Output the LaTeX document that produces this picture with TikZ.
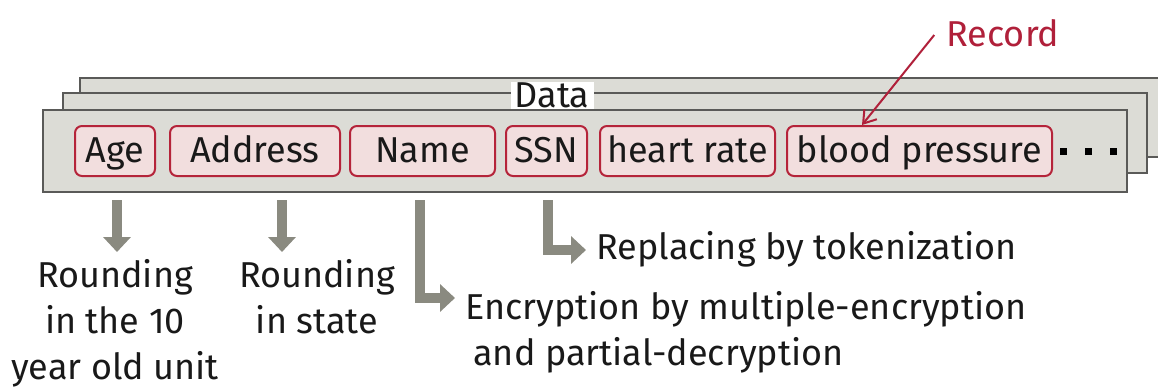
\documentclass[tikz,border=0pt]{standalone}
\usepackage{fontspec}
\setmainfont{Fira Sans}
\usetikzlibrary{arrows.meta}
\definecolor{boxgray}{RGB}{220,220,214}
\definecolor{edgegray}{RGB}{90,90,88}
\definecolor{fieldred}{RGB}{181,36,58}
\definecolor{fieldpink}{RGB}{242,222,222}
\definecolor{arrowgray}{RGB}{138,138,128}
\definecolor{recred}{RGB}{176,32,58}
\definecolor{txt}{RGB}{25,25,25}
\begin{document}
\begin{tikzpicture}[x=0.5pt,y=-0.5pt,
  every node/.style={font=\fontsize{18}{23}\selectfont, text=txt},
  layer/.style={draw=edgegray, fill=boxgray, line width=1pt},
  field/.style={draw=fieldred, fill=fieldpink, line width=1pt, rounded corners=3.5pt,
                minimum height=25pt, inner sep=0pt, text height=13pt, text depth=2pt},
  garrow/.style={draw=arrowgray, line width=5pt, line join=miter,
                 -{Triangle[width=13.5pt,length=7.5pt]}},
  lbl/.style={inner sep=0pt},
  dotsq/.style={fill=black}]
\useasboundingbox (0,0) rectangle (1158,391);
\clip (0,0) rectangle (1158,391);
% stacked records
\draw[layer] (80,78) rectangle (1190,157);
\draw[layer] (63,93) rectangle (1147,173);
\draw[layer] (43,110) rectangle (1127,192);
\node[fill=white, minimum width=41.5pt, minimum height=13.5pt, inner sep=0pt] (datalbl) at (552,95) {Data};
% fields
\node[field, minimum width=40pt]   (age)   at (115,151)   {Age};
\node[field, minimum width=85pt]   (addr)  at (255,151)   {Address};
\node[field, minimum width=72.5pt] (name)  at (422.5,151) {Name};
\node[field, minimum width=40.5pt] (ssn)   at (546.5,151) {SSN};
\node[field, minimum width=87.5pt] (heart) at (687.5,151) {heart rate};
\node[field, minimum width=132.5pt](blood) at (919.5,151) {blood pressure};
\foreach \x in {1063,1088,1113}{\fill[dotsq] (\x-3.5,147.5) rectangle (\x+3.5,154.5);}
% record
\node[text=recred, inner sep=0pt] (rec) at (1003,33) {Record};
\draw[recred, line width=1pt, -{Straight Barb[length=6pt,width=8pt]}]
  ([xshift=-6pt,yshift=-1pt]rec.west) -- ([xshift=-28.75pt]blood.north);
% labels
\node[lbl, align=center] (agelbl)  at (115,323) {Rounding\\in the 10\\year old unit};
\node[lbl, align=center] (addrlbl) at (317,297) {Rounding\\in state};
\node[lbl, align=left, anchor=west] (enclbl) at (465,332)
  {Encryption by multiple-encryption\\\hspace*{4pt}and partial-decryption};
\node[lbl, anchor=west] (toklbl) at (596,249) {Replacing by tokenization};
% gray arrows
\coordinate (a1) at (117,200);
\coordinate (a2) at (117,252);
\coordinate (b1) at (282,200);
\coordinate (b2) at (282,252);
\coordinate (c1) at (420,200);
\coordinate (c2) at (455,298);
\coordinate (d1) at (548,200);
\coordinate (d2) at (586,250);
\draw[garrow] (a1) -- (a2);
\draw[garrow] (b1) -- (b2);
\draw[garrow] (c1) |- (c2);
\draw[garrow] (d1) |- (d2);
\end{tikzpicture}
\end{document}
